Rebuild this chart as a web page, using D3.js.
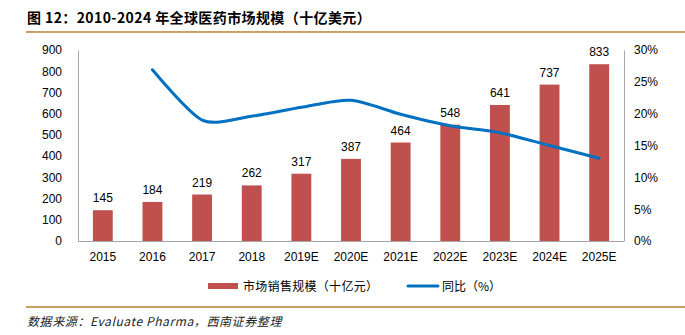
<!DOCTYPE html>
<html>
<head>
<meta charset="utf-8">
<script src="https://cdn.jsdelivr.net/npm/d3@7"></script>
<style>
  body { margin: 0; background: #fff; }
  svg { display: block; font-family: "Liberation Sans", Arial, "Noto Sans CJK SC", sans-serif; }
</style>
</head>
<body>
<div id="chart"></div>
<script>
  // chart data
  const years = ["2015", "2016", "2017", "2018", "2019E", "2020E", "2021E", "2022E", "2023E", "2024E", "2025E"];
  const sales = [145, 184, 219, 262, 317, 387, 464, 548, 641, 737, 833];
  const growth = [null, 26.9, 19.0, 19.6, 21.0, 22.1, 19.9, 18.1, 17.0, 15.0, 13.0];
  const leftTicks = [0, 100, 200, 300, 400, 500, 600, 700, 800, 900];
  const rightTicks = [0, 5, 10, 15, 20, 25, 30];

  const width = 685, height = 335;
  let margin = {top: 50, right: 61, bottom: 94, left: 78};

  let svg = d3.select("#chart").append("svg")
    .attr("width", width)
    .attr("height", height);

  //Title and rules
  svg.append("text")
    .attr("x", 27).attr("y", 23)
    .attr("font-family", "'Noto Sans CJK SC', sans-serif")
    .attr("font-weight", "bold")
    .attr("font-size", "14px")
    .attr("letter-spacing", "0.4px")
    .attr("fill", "#000")
    .text("图 12：2010-2024 年全球医药市场规模（十亿美元）");

  svg.append("line")
    .attr("x1", 26).attr("x2", width).attr("y1", 32).attr("y2", 32)
    .attr("stroke", "#C9A063").attr("stroke-width", 2);

  svg.append("line")
    .attr("x1", 26).attr("x2", width).attr("y1", 307).attr("y2", 307)
    .attr("stroke", "#C9A063").attr("stroke-width", 2);

  svg.append("text")
    .attr("x", 27).attr("y", 326)
    .attr("font-family", "'Noto Sans CJK SC', sans-serif")
    .attr("font-style", "italic")
    .attr("font-size", "12px")
    .attr("letter-spacing", "0.6px")
    .attr("fill", "#222")
    .text("数据来源：Evaluate Pharma，西南证券整理");

  //Scales
  let plotW = width - margin.left - margin.right;
  let plotH = height - margin.top - margin.bottom;

  let x = d3.scaleBand().domain(years).range([margin.left, margin.left + plotW]).paddingInner(0.6).paddingOuter(0.3);
  let yL = d3.scaleLinear().domain([0, 900]).range([margin.top + plotH, margin.top]);
  let yR = d3.scaleLinear().domain([0, 30]).range([margin.top + plotH, margin.top]);

  //Axes
  let axisColor = "#A6A6A6";
  let left = svg.append("g")
    .attr("transform", "translate(" + margin.left + ",0)")
    .call(d3.axisLeft(yL).tickValues(leftTicks).tickSize(0).tickPadding(16));
  let right = svg.append("g")
    .attr("transform", "translate(" + (margin.left + plotW) + ",0)")
    .call(d3.axisRight(yR).tickValues(rightTicks).tickSize(0).tickPadding(10).tickFormat(d => d + "%"));
  let bottom = svg.append("g")
    .attr("transform", "translate(0," + (margin.top + plotH) + ")")
    .call(d3.axisBottom(x).tickSize(0).tickPadding(11));

  [left, right, bottom].forEach(function(g) {
    g.select(".domain").attr("stroke", axisColor);
    g.selectAll("text").attr("font-size", "12px").attr("fill", "#000")
      .attr("font-family", "'Liberation Sans', Arial, sans-serif");
  });
  bottom.select(".domain").attr("d", "M" + margin.left + ",0.5H" + (margin.left + plotW));

  //Bars
  svg.selectAll(".bar")
    .data(sales)
    .enter()
    .append("rect")
      .attr("class", "bar")
      .attr("x", (d, i) => x(years[i]))
      .attr("y", d => yL(d))
      .attr("width", x.bandwidth())
      .attr("height", d => yL(0) - yL(d))
      .attr("fill", "#C0504D");

  //Bar labels
  svg.selectAll(".label")
    .data(sales)
    .enter()
    .append("text")
      .attr("class", "label")
      .attr("x", (d, i) => x(years[i]) + x.bandwidth() / 2)
      .attr("y", d => yL(d) - 8)
      .attr("text-anchor", "middle")
      .attr("font-size", "12px")
      .attr("fill", "#000")
      .text(d => d);

  //Growth line
  let pts = growth.map((d, i) => ({year: years[i], v: d})).filter(d => d.v !== null);
  let line = d3.line()
    .x(d => x(d.year) + x.bandwidth() / 2)
    .y(d => yR(d.v))
    .curve(d3.curveCardinal.tension(0.2));

  svg.append("path")
    .datum(pts)
    .attr("fill", "none")
    .attr("stroke", "#0070C0")
    .attr("stroke-width", 3)
    .attr("stroke-linecap", "round")
    .attr("d", line);

  //Legend
  let legend = svg.append("g").attr("transform", "translate(0,286)");
  legend.append("rect")
    .attr("x", 208).attr("y", -3).attr("width", 30).attr("height", 6)
    .attr("fill", "#C0504D");
  legend.append("text")
    .attr("x", 243).attr("y", 5)
    .attr("font-family", "'Noto Sans CJK SC', sans-serif")
    .attr("font-size", "12px").attr("fill", "#000")
    .attr("letter-spacing", "0.3px")
    .text("市场销售规模（十亿元）");
  legend.append("line")
    .attr("x1", 408).attr("x2", 438).attr("y1", 0).attr("y2", 0)
    .attr("stroke", "#0070C0").attr("stroke-width", 3).attr("stroke-linecap", "round");
  legend.append("text")
    .attr("x", 442).attr("y", 5)
    .attr("font-family", "'Noto Sans CJK SC', sans-serif")
    .attr("font-size", "12px").attr("fill", "#000")
    .text("同比（%）");
</script>
</body>
</html>
